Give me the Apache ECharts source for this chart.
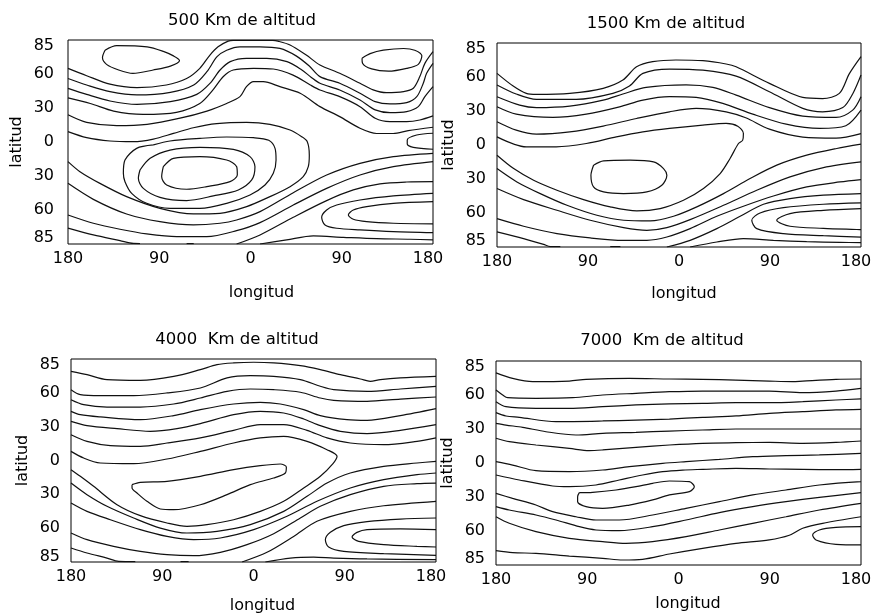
<!DOCTYPE html>
<html>
<head>
<meta charset="utf-8">
<script src="https://cdn.jsdelivr.net/npm/echarts@6/dist/echarts.min.js"></script>
<style>html,body{margin:0;padding:0;background:#fff;}#c{width:872px;height:616px;}</style>
</head>
<body>
<div id="c"></div>
<script>
// ---------- axis ticks / labels ----------
const lonTicks = [-180, -90, 0, 90, 180];
const latTicks = [-85, -60, -30, 0, 30, 60, 85];
const titles = ['500 Km de altitud', '1500 Km de altitud', '4000  Km de altitud', '7000  Km de altitud'];
const xName = 'longitud';
const yName = 'latitud';

// ---------- Panel 1 : 500 km  (each contour = [lon, lat] points) ----------
const p1_loopA = [[-143.5,81],[-132,85],[-102,84],[-86,80],[-76,76],[-70,72],[-79,67],[-96,63.5],[-116,60.5],[-130,63.5],[-142,68.5],[-146,74.5],[-143.5,81]];
const p1_loopB = [[110,74],[118,78],[131,81],[151,82.5],[162,81],[169,76],[165.5,68.5],[154,65],[136,62.5],[119.5,64.5],[110.5,69.5],[110,74]];
const p1_L1 = [[-180,65],[-161.6,58.5],[-138.6,51],[-112,48],[-83,50.3],[-63,56],[-50,65],[-40,76.7],[-32,84],[-22,89],[-17,89.6],[22,89.6],[27,89],[39,85.6],[55,76.7],[68.5,68],[88,60.6],[108,51.8],[121,46],[134,43.5],[151,44.4],[160.6,47.4],[167,57.7],[172,69.4],[180,79.7]];
const p1_L2 = [[-180,56],[-161.6,50.3],[-138.6,44.4],[-112,41.5],[-79,43.8],[-56,50.3],[-43,62],[-33,75.3],[-23.5,81],[-10.4,84],[9.4,84],[29,82.6],[45,76],[58,67],[68.5,57.7],[88,51.8],[108,43],[123,35.6],[137.5,33.6],[154,34.7],[164,40],[170.4,51.8],[173.7,60.6],[180,69.4]];
const p1_L3 = [[-180,47.3],[-161.6,42],[-138.6,36.2],[-112,33.2],[-79,35.6],[-53,42],[-40,51.7],[-30,63.5],[-20,70.9],[-4,73.8],[16,73.8],[36,70.9],[50,64],[60,57],[68.5,51.8],[88,45.9],[108,37],[123,28.3],[137.5,25.9],[154,26.8],[165.5,31.2],[172,40],[180,48.8]];
const p1_L4 = [[-180,39],[-158,34],[-135,27.3],[-106,24.4],[-73,26.2],[-50,34],[-37,46],[-27,57.6],[-17,63.5],[3,65],[22.5,64.4],[42,59],[59,50.3],[68.5,45.9],[88,40],[108,31.2],[123,20.9],[137.5,18],[154,18],[167,19.4],[180,23]];
const p1_L5 = [[-180,24],[-161.6,17.3],[-132,14.4],[-102,15.6],[-69.5,21],[-43,27.3],[-23.5,34],[-10.4,40],[-4,48.8],[3,53.2],[12.6,53.2],[29,48.8],[49,43],[68.5,31.2],[88,22.4],[108,12.1],[124.4,7.5],[140.8,7.5],[155.6,10],[180,13]];
const p1_edgeLoop = [[180,7.7],[163.9,6.2],[154.6,1.8],[154.6,-1.7],[160.6,-4.7],[180,-6.4]];
const p1_C = [[-180,9.1],[-161.6,3.8],[-138.6,0.9],[-115.6,0.3],[-95.8,2.6],[-76,7.6],[-56.4,12.6],[-33.4,16.2],[-3.8,17.3],[19.2,15.6],[39,10.6],[50.5,4.7],[56,0.3],[58,-11.5],[57,-21.8],[52,-30.6],[39,-39.4],[19.2,-48.2],[-3.8,-57],[-30.1,-62.9],[-56.4,-63.5],[-89.3,-58.5],[-122.2,-48.2],[-148.5,-36.5],[-168.2,-26.2],[-180,-17.3]];
const p1_outer = [[-95.8,-2.6],[-79.4,0.9],[-49.8,3.2],[-23.5,4.4],[2.8,3.8],[18,1.5],[24.2,-5.6],[25.2,-15.9],[22.5,-27.6],[14.3,-37.9],[-0.5,-46.7],[-23.5,-54.1],[-49.8,-58.5],[-79.4,-58.5],[-102.4,-54.1],[-117.2,-45.3],[-123.8,-35],[-125.4,-27.6],[-123.8,-15.9],[-112.3,-5.6],[-95.8,-2.6]];
const p1_middle = [[-109,-24.7],[-99,-14.4],[-79.4,-7.1],[-49.8,-4.7],[-16.9,-6.5],[-0.5,-12.9],[4.4,-21.8],[1.2,-33.5],[-12,-42.3],[-36.7,-47.6],[-63,-51.7],[-89.3,-48.8],[-105.7,-40.9],[-110.6,-32],[-109,-24.7]];
const p1_inner = [[-86,-21.8],[-76,-14.4],[-50,-12.9],[-23.5,-15.9],[-13.6,-21.8],[-13,-29.1],[-20.2,-35],[-43.2,-39.4],[-63,-41.7],[-82.7,-37.9],[-87.6,-30.6],[-86,-21.8]];
const p1_P = [[-180,-36.5],[-155,-50.6],[-122.2,-63.5],[-89.3,-70.3],[-56.4,-73.2],[-30.1,-71.7],[-13.7,-68.8],[9.4,-61.4],[42.2,-44.7],[75.1,-29.1],[108,-18.8],[140.9,-12.9],[180,-10]];
const p1_Q = [[-180,-64.4],[-155,-71.7],[-128.7,-77],[-102.4,-81.1],[-72.8,-83.5],[-43.2,-83.5],[-13.7,-78.2],[9.4,-71.1],[42.2,-55.6],[75.1,-40.9],[108,-29.1],[140.9,-21.8],[180,-17.3]];
const p1_R = [[-180,-76],[-155,-82],[-128.7,-87],[-115.6,-89.5],[-109,-89.6]];
const p1_edgeBottom = [[-63,-89.6],[-56,-89.6]];
const p1_B1 = [[-13.7,-90],[9.4,-82],[42.2,-66.4],[75.1,-51.7],[101.4,-42.3],[127.7,-37],[154,-35.3],[180,-35]];
const p1_B2 = [[9.4,-90],[35.7,-86.4],[62,-82.9],[91.6,-84.1],[124.4,-85.3],[157.3,-85.8],[180,-86.4]];
const p1_lowOuter = [[180,-45.3],[140.9,-47.6],[108,-51.2],[85,-55.6],[75.1,-60],[70.2,-66.4],[73.5,-73.2],[85,-76.1],[108,-77.6],[140.9,-79.1],[180,-80]];
const p1_lowInner = [[180,-52.6],[140.9,-54.1],[114.6,-57],[101.4,-60],[96.5,-64.4],[101.4,-68.2],[114.6,-70.3],[140.9,-71.7],[180,-72.3]];

// ---------- Panel 2 : 1500 km ----------
const p2_M1 = [[-180,63.2],[-164,52],[-151,45.5],[-141,44.6],[-108,45.5],[-75,50],[-55.5,57.3],[-42,69],[-26,73.5],[-3,75],[23.6,74.4],[46.6,71.5],[56.5,69],[89.4,54.4],[122.4,42],[142,41],[158.6,45.5],[168.5,63],[180,78]];
const p2_M2 = [[-180,53],[-161,45],[-141,40.2],[-101.6,40.2],[-65.4,45.5],[-49,52],[-35.7,63.2],[-9.4,67],[23.6,66],[56.5,60.8],[89.4,47],[122.4,32.3],[142,29.3],[162,33],[172,45.5],[180,61.7]];
const p2_M3 = [[-180,42.6],[-157.6,35.2],[-141,33],[-108,34.3],[-75,39.6],[-55.5,45],[-32.5,50.8],[7,53],[33.5,50.8],[56.5,44],[89.4,33],[122.4,25.5],[155.3,24.3],[171.8,30.8],[180,42.6]];
const p2_M4 = [[-180,33.7],[-161,27.2],[-124.7,24.3],[-91.7,27.2],[-58.8,33.7],[-35.7,39.6],[-9.4,42.6],[17,42],[43.3,36.7],[73,27.2],[106,18.4],[139,14.6],[165,17],[180,30.8]];
const p2_M5 = [[-180,20.5],[-161,13.1],[-141,9.6],[-108,11.6],[-75,16.7],[-42,23.4],[-9.4,29.3],[17,32.3],[46.6,29.3],[66,24],[89.4,14],[122.4,7],[155.3,6],[180,10]];
const p2_C = [[-180,7.2],[-151,-1.6],[-121.4,-1.6],[-91.7,1.3],[-62,7.2],[-35.7,11.6],[-9.4,14.6],[23.6,17.5],[46.6,19],[58.1,16.6],[63.7,10.2],[63,4.3],[58.8,1.3],[50.5,-11.9],[40.7,-25.2],[24.2,-38.4],[4.4,-48.8],[-18.6,-56.1],[-41.7,-58.2],[-68,-54.6],[-94.4,-48.2],[-120.7,-39.9],[-143.8,-31.1],[-163.5,-20.8],[-180,-9]];
const p2_inner = [[-84.5,-17.8],[-74.6,-14],[-48.3,-13.4],[-25.2,-14.9],[-15.3,-20.8],[-12,-26.7],[-17,-35.5],[-31.8,-41.4],[-54.8,-42.9],[-74.6,-41.4],[-84.5,-37],[-87.1,-26.7],[-84.5,-17.8]];
const p2_P = [[-180,-20.8],[-160.3,-32.6],[-137.2,-42.9],[-110.8,-53.2],[-81.2,-62],[-54.8,-66.4],[-28.5,-67],[-5.4,-62.9],[17.6,-54.6],[44,-42.9],[70.3,-29.6],[96.7,-17.8],[126.3,-9],[156,-3.1],[180,0.7]];
const p2_Q = [[-180,-38.4],[-153.7,-48.2],[-120.7,-57.6],[-87.8,-66.4],[-54.8,-72.9],[-31.8,-75.3],[-12,-72.9],[11,-65.8],[44,-53.2],[76.9,-39.9],[109.8,-28.1],[142.8,-19.9],[180,-14.9]];
const p2_R = [[-180,-65],[-153.7,-71.7],[-120.7,-78.2],[-87.8,-82],[-54.8,-84.1],[-31.8,-84.1],[-12,-81.2],[11,-73.8],[37.4,-62.9],[63.7,-54],[93.4,-45],[126.3,-37],[159.2,-32.6],[180,-30.5]];
const p2_S = [[-180,-76.7],[-153.7,-82.6],[-133.9,-87.7],[-127.3,-89.6],[-117.4,-89.6]];
const p2_edgeBottom = [[-68,-89.6],[-58,-89.6]];
const p2_B1 = [[-12,-90],[11,-84.1],[37.4,-73.8],[60.5,-62.9],[83.5,-52.3],[109.8,-47.3],[142.8,-44.3],[180,-42.9]];
const p2_B2 = [[11,-90],[37.4,-85.6],[63.7,-82.6],[93.4,-84.1],[126.3,-85.3],[159.2,-85.9],[180,-86.2]];
const p2_lowOuter = [[180,-51.1],[142.8,-52.3],[103.3,-55.3],[80.2,-60],[72,-66.4],[76.9,-73.8],[103.3,-78.2],[142.8,-80],[180,-81.2]];
const p2_lowInner = [[180,-56.1],[142.8,-57.6],[109.8,-60.5],[96.7,-66.4],[109.8,-71.7],[142.8,-73.5],[180,-74.7]];

// ---------- Panel 3 : 4000 km ----------
const p3_N1 = [[-180,79.1],[-164.2,76.1],[-144.5,71.7],[-111.6,71.1],[-78.7,74.6],[-52.4,80.6],[-36,85],[-19.6,86.5],[0.2,87.1],[19.9,86.5],[46.2,84.1],[65.9,80.6],[85.7,76.1],[105.4,72.3],[115.2,70.2],[125.1,71.7],[144.8,73.2],[180,74.6]];
const p3_N2 = [[-180,62.8],[-170.8,58.4],[-151.1,57.5],[-118.2,57.5],[-85.3,59.9],[-52.4,64.3],[-26.1,73.2],[-3.1,75.2],[19.9,74.6],[46.2,71.7],[65.9,65.8],[79.1,62.8],[112,61.3],[144.8,63.4],[180,65.8]];
const p3_N3 = [[-180,53.9],[-167.5,49.5],[-144.5,47.4],[-111.6,47.4],[-78.7,50.1],[-52.4,55.4],[-26.1,61.3],[-3.1,63.4],[19.9,62.8],[46.2,60.5],[65.9,55.4],[79.1,53.4],[112,52.5],[144.8,54.5],[180,56.3]];
const p3_N4 = [[-180,43.6],[-170.8,40.6],[-151.1,38.6],[-111.6,36.2],[-78.7,39.8],[-52.4,45.1],[-19.6,50.1],[6.7,51.6],[26.5,50.1],[49.5,45.1],[65.9,39.8],[92.2,36.2],[112,35.6],[144.8,39.8],[180,46]];
const p3_N5 = [[-180,34.7],[-164.2,30.9],[-134.6,28.2],[-101.8,25.9],[-75.5,28.2],[-52.4,32.7],[-19.6,40.6],[6.7,43.6],[29.8,42.1],[49.5,36.8],[65.9,30.9],[85.7,25.9],[112,23.8],[144.8,26.7],[180,31.8]];
const p3_N6 = [[-180,22.9],[-164.2,17],[-141.2,13.2],[-111.6,12.6],[-85.3,15.5],[-52.4,20],[-19.6,26.7],[6.7,31.8],[29.8,31.8],[52.8,26.7],[72.5,20],[95.5,15.5],[128.4,14],[161.3,17],[180,20]];
const p3_C = [[-180,8.1],[-167.5,2.2],[-151.1,-2.2],[-118.2,-2.8],[-85.3,1.3],[-52.4,8.1],[-19.6,15.5],[6.7,20],[29.8,21.4],[52.8,17],[72.5,9.6],[82.4,3.7],[78.4,-2.8],[65.9,-14],[49.5,-24.4],[29.8,-36.2],[6.7,-45.1],[-19.6,-52.5],[-45.9,-56.9],[-65.6,-58.4],[-85.3,-55.4],[-111.6,-48.9],[-134.6,-39.2],[-157.7,-22.9],[-170.8,-14],[-180,-8.1]];
const p3_inner = [[-119.8,-21.4],[-111.6,-19.4],[-85.3,-18.5],[-52.4,-14],[-19.6,-8.1],[6.7,-4.6],[26.5,-3.1],[32.4,-5.8],[31.4,-11.1],[19.9,-15.5],[-3.1,-21.4],[-26.1,-30.3],[-52.4,-39.2],[-78.7,-43.6],[-91.9,-43],[-105.1,-36.2],[-114.9,-28.8],[-119.8,-24.4],[-119.8,-21.4]];
const p3_P = [[-180,-20],[-164.2,-30.3],[-144.5,-40.6],[-118.2,-51],[-91.9,-59.9],[-65.6,-64.3],[-36,-62.8],[-3.1,-56.9],[29.8,-45.1],[52.8,-31.8],[72.5,-20],[95.5,-11.1],[128.4,-5.2],[161.3,-2.2],[180,-0.7]];
const p3_Q = [[-180,-37.7],[-164.2,-45.1],[-141.2,-52.5],[-111.6,-61.3],[-85.3,-67.3],[-59,-70.2],[-32.7,-68.7],[0.2,-61.3],[33,-49.5],[62.6,-36.2],[95.5,-24.4],[128.4,-17],[161.3,-12.6],[180,-11.1]];
const p3_R = [[-180,-64.3],[-164.2,-70.2],[-138,-76.1],[-111.6,-80.6],[-85.3,-83.5],[-59,-84.4],[-32.7,-81.4],[-6.4,-74.6],[19.9,-64.9],[46.2,-51],[65.9,-40.6],[95.5,-30.3],[128.4,-22.9],[161.3,-20.5],[180,-20]];
const p3_S = [[-180,-77.6],[-164.2,-82],[-144.5,-86.5],[-133,-89.4],[-116.6,-89.6]];
const p3_edgeBottom = [[-72,-89.6],[-64,-89.6]];
const p3_B1 = [[-11.3,-90],[13.3,-81.4],[39.6,-67.3],[62.6,-53.9],[95.5,-45.1],[128.4,-40.1],[180,-36.2]];
const p3_B2 = [[11.7,-90],[36.3,-86.5],[59.3,-85.6],[79.1,-86.5],[112,-87.3],[180,-87.9]];
const p3_lowOuter = [[180,-51],[144.8,-51.9],[112,-54.2],[89,-57.8],[75.8,-63.7],[70.9,-70.2],[74.1,-76.7],[89,-80.6],[128.4,-82.6],[180,-84.1]];
const p3_lowInner = [[180,-61.3],[144.8,-60.7],[112,-61.3],[102.1,-63.7],[97.2,-67.8],[103.7,-71.7],[128.4,-74.6],[161.3,-76.1],[180,-76.7]];

// ---------- Panel 4 : 7000 km ----------
const p4_T1 = [[-180,79.5],[-163.6,74.7],[-143.8,71.8],[-107.7,72.3],[-91.2,73.8],[-48.5,74.7],[-9,74.1],[23.8,73.8],[56.7,73.2],[89.6,72.3],[112.6,71.8],[122.5,72.3],[155.3,73.8],[180,74.1]];
const p4_T2 = [[-180,64.4],[-173.4,60],[-168.5,57.6],[-140.6,57.1],[-104.4,57.6],[-74.8,60],[-41.9,61.5],[-9,62.9],[23.8,63.5],[56.7,63.5],[89.6,63.5],[122.5,62.1],[155.3,63.5],[180,65.9]];
const p4_T3 = [[-180,54.1],[-170.2,49.7],[-140.6,48.2],[-107.7,48.2],[-74.8,49.7],[-41.9,51.2],[-9,52.1],[23.8,52.6],[56.7,53.2],[89.6,53.2],[122.5,54.1],[155.3,55.6],[180,56.5]];
const p4_T4 = [[-180,44.4],[-170.2,41.5],[-157,40.3],[-120.8,36.5],[-74.8,37.1],[-41.9,37.9],[-9,38.8],[23.8,40.3],[56.7,41.5],[89.6,43.8],[122.5,45.3],[155.3,46.8],[180,47.3]];
const p4_T5 = [[-180,35],[-170.2,33.5],[-153.7,31.5],[-130.7,27.6],[-101.1,24.7],[-74.8,26.2],[-41.9,27.1],[-9,28.2],[23.8,29.1],[56.7,30],[118,30],[180,30]];
const p4_T6 = [[-180,21.8],[-166.9,18.8],[-140.6,15.9],[-107.7,12.9],[-88,10.9],[-74.8,11.5],[-41.9,13.8],[-9,15.9],[23.8,17.4],[56.7,17.9],[89.6,18.2],[122.5,17.4],[155.3,18.2],[180,19.4]];
const p4_T7 = [[-180,1.2],[-163.6,-1.8],[-140.6,-6.8],[-107.7,-7.6],[-74.8,-6.2],[-48.5,-3.2],[-15.6,-0.3],[7.4,1.2],[40.3,3.2],[73.2,5.6],[106,6.5],[138.9,7.1],[180,8.5]];
const p4_T8 = [[-180,-10.6],[-157,-15],[-124.1,-20.3],[-107.7,-20.9],[-81.4,-19.4],[-58.4,-15],[-35.4,-10.6],[-15.6,-7.6],[4.1,-6.2],[23.8,-5.6],[56.7,-4.7],[89.6,-5.3],[122.5,-5.6],[155.3,-5.9],[180,-5.6]];
const p4_inner = [[-97.8,-26.2],[-84.7,-25.9],[-61.6,-23.8],[-41.9,-20.9],[-25.5,-17.9],[-9,-15.9],[10.7,-16.5],[15.6,-20.9],[10.7,-25.3],[-9,-28.2],[-25.5,-32.6],[-48.5,-37.1],[-74.8,-40],[-91.2,-38.5],[-99.5,-34.1],[-99.5,-29.7],[-97.8,-26.2]];
const p4_T9 = [[-180,-26.8],[-163.6,-31.2],[-140.6,-37.1],[-124.1,-42.9],[-101.1,-47.4],[-81.4,-50.3],[-58.4,-50.3],[-25.5,-45.9],[7.4,-40],[40.3,-34.1],[73.2,-28.2],[106,-23.8],[138.9,-19.4],[180,-16.5]];
const p4_T10 = [[-180,-38.5],[-166.9,-41.5],[-140.6,-45.9],[-120.8,-50.3],[-97.8,-56.2],[-81.4,-59.1],[-58.4,-59.7],[-25.5,-56.2],[7.4,-50.3],[40.3,-43.8],[73.2,-38.5],[106,-34.1],[138.9,-30.3],[180,-26.2]];
const p4_T11 = [[-180,-47.4],[-166.9,-53.2],[-140.6,-60.6],[-107.7,-66.5],[-74.8,-69.4],[-51.8,-70.9],[-25.5,-69.4],[7.4,-65],[40.3,-59.1],[73.2,-53.2],[106,-47.4],[138.9,-41.5],[180,-35.6]];
const p4_T12 = [[-180,-77.3],[-163.6,-79.1],[-140.6,-79.7],[-107.7,-82.1],[-74.8,-84.1],[-55.1,-85.6],[-35.4,-85],[-9,-80.3],[23.8,-75.3],[56.7,-70.9],[89.6,-67.9],[109.3,-63.8],[122.5,-57.6],[142.2,-53.2],[180,-47.4]];
const p4_loop = [[180,-56.2],[155.3,-56.8],[138.9,-59.1],[132.3,-63.5],[135.6,-67.9],[155.3,-71.8],[180,-72.3]];

const panelLines = [
  [p1_loopA,p1_loopB,p1_L1,p1_L2,p1_L3,p1_L4,p1_L5,p1_edgeLoop,p1_C,p1_outer,p1_middle,p1_inner,p1_P,p1_Q,p1_R,p1_edgeBottom,p1_B1,p1_B2,p1_lowOuter,p1_lowInner],
  [p2_M1,p2_M2,p2_M3,p2_M4,p2_M5,p2_C,p2_inner,p2_P,p2_Q,p2_R,p2_S,p2_edgeBottom,p2_B1,p2_B2,p2_lowOuter,p2_lowInner],
  [p3_N1,p3_N2,p3_N3,p3_N4,p3_N5,p3_N6,p3_C,p3_inner,p3_P,p3_Q,p3_R,p3_S,p3_edgeBottom,p3_B1,p3_B2,p3_lowOuter,p3_lowInner],
  [p4_T1,p4_T2,p4_T3,p4_T4,p4_T5,p4_T6,p4_T7,p4_T8,p4_inner,p4_T9,p4_T10,p4_T11,p4_T12,p4_loop]
];

// ---------- layout & style ----------
const FONT = '"DejaVu Sans", Verdana, sans-serif';
const layout = [
  {grid:{left:68, top:40, width:365, height:204}, title:{x:242, y:12}, xGap:41, xShift:22, yGap:43, yMargin:14},
  {grid:{left:497, top:43, width:364, height:204}, title:{x:666, y:15}, xGap:39, xShift:10, yGap:40, yMargin:11},
  {grid:{left:71, top:359, width:365, height:203}, title:{x:237, y:331}, xGap:36, xShift:18, yGap:40, yMargin:11},
  {grid:{left:496, top:361, width:365, height:204}, title:{x:662, y:332}, xGap:31, xShift:19, yGap:40, yMargin:11}
];
const txt = {color:'#000', fontFamily:FONT, fontSize:16};
const lonLabel = v => (v === lonTicks[lonTicks.length-1] ? '{e|' + Math.abs(v) + '}' : String(Math.abs(v)));
const latLabel = v => String(Math.abs(v));

const option = {
  animation:false,
  backgroundColor:'#fff',
  title: layout.map((l,i)=>({text:titles[i], left:l.title.x, top:l.title.y, textAlign:'center', padding:0,
    textStyle:{color:'#000', fontFamily:FONT, fontSize:16.5, fontWeight:'normal'}})),
  grid: layout.map(l=>Object.assign({show:true, borderColor:'#000', borderWidth:1, backgroundColor:'transparent', containLabel:false, outerBoundsMode:'none'}, l.grid)),
  xAxis: layout.map((l,i)=>({type:'value', gridIndex:i, min:lonTicks[0], max:lonTicks[lonTicks.length-1], interval:90,
    axisLine:{show:false}, axisTick:{show:false}, splitLine:{show:false},
    axisLabel:Object.assign({formatter:lonLabel, margin:7, showMinLabel:true, showMaxLabel:true, hideOverlap:false,
      rich:{e:{color:'#000', fontFamily:FONT, fontSize:16, padding:[0,10,0,0]}}}, txt),
    name:xName, nameLocation:'middle', nameGap:l.xGap,
    nameTextStyle:Object.assign({padding:[0,0,0,l.xShift]}, txt)})),
  yAxis: layout.map((l,i)=>({type:'value', gridIndex:i, min:-90, max:90,
    axisLine:{show:false}, axisTick:{show:false}, splitLine:{show:false},
    axisLabel:Object.assign({customValues:latTicks, formatter:latLabel, margin:l.yMargin}, txt),
    name:yName, nameLocation:'middle', nameGap:l.yGap, nameRotate:90,
    nameTextStyle:txt})),
  series: []
};
panelLines.forEach((lines,i)=>{
  lines.forEach(d=>{
    option.series.push({type:'line', xAxisIndex:i, yAxisIndex:i, data:d, showSymbol:false, symbol:'none',
      smooth:0.3, silent:true, clip:true, lineStyle:{color:'#111', width:1.2}});
  });
});
const chart = echarts.init(document.getElementById('c'), null, {renderer:'canvas'});
chart.setOption(option);
</script>
</body>
</html>
